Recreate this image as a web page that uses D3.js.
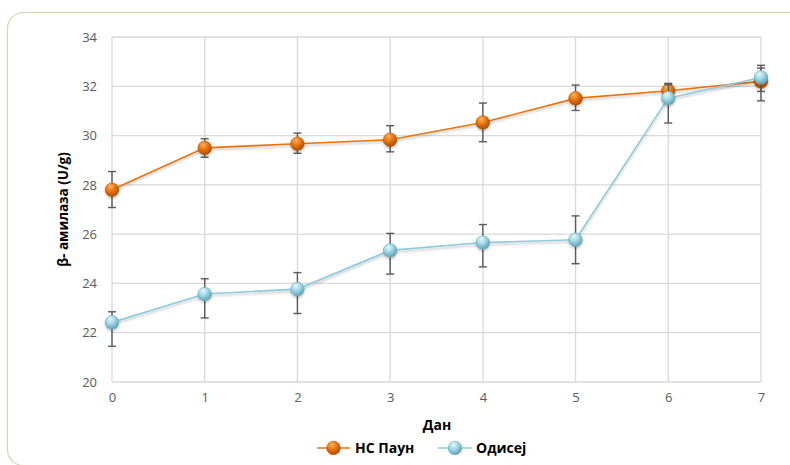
<!DOCTYPE html>
<html>
<head>
<meta charset="utf-8">
<script src="https://cdn.jsdelivr.net/npm/d3@7"></script>
<style>
  html, body { margin: 0; padding: 0; background: #ffffff; }
  svg { display: block; }
</style>
</head>
<body>
<svg id="chart" width="790" height="465"></svg>
<script>
// Days of measurement
const days = [0, 1, 2, 3, 4, 5, 6, 7];

// β-amylase activity (U/g), НС Паун
const paunValues = [27.8, 29.5, 29.67, 29.83, 30.53, 31.51, 31.82, 32.2];
const paunErrPlus = [0.74, 0.37, 0.43, 0.57, 0.79, 0.54, 0.3, 0.54];
const paunErrMinus = [0.72, 0.38, 0.39, 0.49, 0.78, 0.49, 0.3, 0.41];

// β-amylase activity (U/g), Одисеј
const odisejValues = [22.42, 23.57, 23.77, 25.34, 25.66, 25.77, 31.52, 32.36];
const odisejErrPlus = [0.43, 0.62, 0.67, 0.69, 0.73, 0.97, 0.55, 0.49];
const odisejErrMinus = [0.97, 0.97, 0.99, 0.96, 0.99, 0.97, 1.01, 0.95];

const yTicks = [20, 22, 24, 26, 28, 30, 32, 34];
const seriesNames = ["НС Паун", "Одисеј"];

const svg = d3.select("#chart");
const font = "'Open Sans', 'Noto Sans', sans-serif";

// Rounded outer frame
svg.append("rect")
  .attr("x", 7.5).attr("y", 12.5)
  .attr("width", 810).attr("height", 453)
  .attr("rx", 16).attr("ry", 16)
  .attr("fill", "#ffffff")
  .attr("stroke", "#c9dda8").attr("stroke-width", 1.2);

const x = d3.scaleLinear().domain([0, 7]).range([112, 761]);
const y = d3.scaleLinear().domain([20, 34]).range([382, 37]);

const defs = svg.append("defs");

// Soft shadow under lines and markers
const shadow = defs.append("filter").attr("id", "shadow")
  .attr("x", "-20%").attr("y", "-20%").attr("width", "140%").attr("height", "160%");
shadow.append("feDropShadow")
  .attr("dx", 0).attr("dy", 2).attr("stdDeviation", 1.3)
  .attr("flood-color", "#000").attr("flood-opacity", 0.22);

// Glossy sphere gradients for markers
function sphere(id, light, mid, dark) {
  const g = defs.append("radialGradient").attr("id", id)
    .attr("cx", "40%").attr("cy", "32%").attr("r", "70%").attr("fx", "38%").attr("fy", "25%");
  g.append("stop").attr("offset", "0%").attr("stop-color", light);
  g.append("stop").attr("offset", "45%").attr("stop-color", mid);
  g.append("stop").attr("offset", "100%").attr("stop-color", dark);
}
sphere("gOrange", "#ffb266", "#ec7a12", "#a94800");
sphere("gBlue", "#e6f7fb", "#a4dae8", "#5c9fb3");

// Gridlines
const grid = svg.append("g");
grid.selectAll("line.h").data(yTicks).join("line")
  .attr("x1", x(0)).attr("x2", x(7))
  .attr("y1", d => y(d)).attr("y2", d => y(d))
  .attr("stroke", "#d9d9d9").attr("stroke-width", 1.3);
grid.selectAll("line.v").data(days).join("line")
  .attr("y1", y(34)).attr("y2", y(20))
  .attr("x1", d => x(d)).attr("x2", d => x(d))
  .attr("stroke", "#d9d9d9").attr("stroke-width", 1.3);

// Axes (labels only, lines come from the grid)
const yAxis = d3.axisLeft(y).tickValues(yTicks).tickSize(0).tickPadding(15);
svg.append("g").attr("transform", `translate(${x(0)},0)`).call(yAxis)
  .call(g => g.select(".domain").remove())
  .selectAll("text")
  .attr("font-family", font).attr("font-size", 13).attr("fill", "#595959");

const xAxis = d3.axisBottom(x).tickValues(days).tickFormat(d3.format("d")).tickSize(0).tickPadding(11);
svg.append("g").attr("transform", `translate(0,${y(20)})`).call(xAxis)
  .call(g => g.select(".domain").remove())
  .selectAll("text")
  .attr("font-family", font).attr("font-size", 13).attr("fill", "#595959");

// Axis titles
svg.append("text")
  .attr("transform", `translate(68,${(y(20) + y(34)) / 2}) rotate(-90)`)
  .attr("text-anchor", "middle")
  .attr("font-family", font).attr("font-weight", "bold").attr("font-size", 13.5)
  .attr("fill", "#000").text("β- амилаза (U/g)");

svg.append("text")
  .attr("x", 437).attr("y", 430)
  .attr("text-anchor", "middle")
  .attr("font-family", font).attr("font-weight", "bold").attr("font-size", 14)
  .attr("fill", "#000").text("Дан");

const series = [
  { name: seriesNames[0], values: paunValues, plus: paunErrPlus, minus: paunErrMinus, line: "#e8720c", grad: "url(#gOrange)", stroke: "#b85400" },
  { name: seriesNames[1], values: odisejValues, plus: odisejErrPlus, minus: odisejErrMinus, line: "#8ecbdb", grad: "url(#gBlue)", stroke: "#6aaabd" }
];

const lineGen = d3.line().x(d => x(d.day)).y(d => y(d.v));

series.forEach(s => {
  const pts = days.map((d, i) => ({ day: d, v: s.values[i], p: s.plus[i], m: s.minus[i] }));
  const g = svg.append("g");

  g.append("path").datum(pts)
    .attr("d", lineGen)
    .attr("fill", "none")
    .attr("stroke", s.line).attr("stroke-width", 1.6)
    .attr("filter", "url(#shadow)");

  // Error bars
  const eb = g.append("g").attr("stroke", "#595959").attr("stroke-width", 1.4);
  eb.selectAll("line.stem").data(pts).join("line")
    .attr("x1", d => x(d.day)).attr("x2", d => x(d.day))
    .attr("y1", d => y(d.v + d.p)).attr("y2", d => y(d.v - d.m));
  eb.selectAll("line.top").data(pts).join("line")
    .attr("x1", d => x(d.day) - 4).attr("x2", d => x(d.day) + 4)
    .attr("y1", d => y(d.v + d.p)).attr("y2", d => y(d.v + d.p));
  eb.selectAll("line.bot").data(pts).join("line")
    .attr("x1", d => x(d.day) - 4).attr("x2", d => x(d.day) + 4)
    .attr("y1", d => y(d.v - d.m)).attr("y2", d => y(d.v - d.m));

  // Markers
  g.selectAll("circle").data(pts).join("circle")
    .attr("cx", d => x(d.day)).attr("cy", d => y(d.v))
    .attr("r", 6.8)
    .attr("fill", s.grad)
    .attr("stroke", s.stroke).attr("stroke-width", 0.6)
    .attr("filter", "url(#shadow)");
});

// Legend
const legend = svg.append("g");
const legendItems = [
  { s: series[0], x0: 317, x1: 350, tx: 355 },
  { s: series[1], x0: 438, x1: 472, tx: 476 }
];
legendItems.forEach(it => {
  const ly = 448;
  legend.append("line")
    .attr("x1", it.x0).attr("x2", it.x1).attr("y1", ly).attr("y2", ly)
    .attr("stroke", it.s.line).attr("stroke-width", 1.6);
  legend.append("circle")
    .attr("cx", (it.x0 + it.x1) / 2).attr("cy", ly).attr("r", 6.8)
    .attr("fill", it.s.grad).attr("stroke", it.s.stroke).attr("stroke-width", 0.6);
  legend.append("text")
    .attr("x", it.tx).attr("y", ly + 5)
    .attr("font-family", font).attr("font-weight", "bold").attr("font-size", 14)
    .attr("fill", "#000").text(it.s.name);
});
</script>
</body>
</html>
